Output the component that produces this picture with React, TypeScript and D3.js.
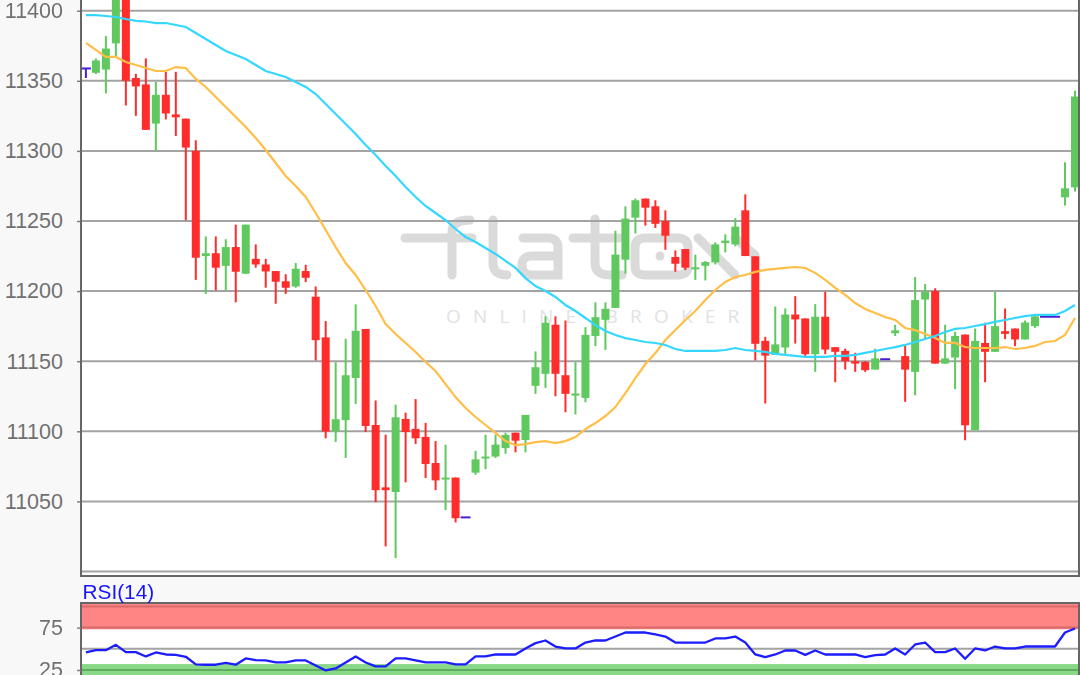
import * as d3 from 'd3';
import React, {useRef, useEffect} from 'react';

// candle values, one entry per bar
const opens = [11358.8, 11355.7, 11358, 11376.7, 11420, 11352, 11347.4, 11319.5, 11340, 11326,
  11323, 11300, 11225, 11227, 11218, 11231.4, 11212.4, 11223, 11219, 11214.3,
  11207, 11203.3, 11214.3, 11196, 11167, 11100, 11108, 11138, 11173, 11104.5,
  11060, 11056.7, 11108.8, 11101.7, 11096, 11077.4, 11066, 11067, 11038.6, 11070.5,
  11080.7, 11082, 11088, 11099, 11093.8, 11132.4, 11141, 11176, 11140, 11125.5,
  11123.8, 11168, 11179.5, 11188, 11222.4, 11252.4, 11266, 11260.5, 11250, 11224.3,
  11230, 11215.5, 11218, 11220.5, 11234.3, 11233.3, 11257.6, 11224.8, 11164.5, 11154.5,
  11159.8, 11183.3, 11180.5, 11155, 11181.7, 11160, 11157.4, 11150, 11149.5, 11144,
  11151.4, 11170, 11153.6, 11142.4, 11194, 11200, 11148.3, 11152.6, 11169, 11100.7,
  11163, 11156.7, 11171.4, 11173.3, 11165.5, 11175, 11181.7, 11181.7, 11266.9, 11274];
const closes = [11358.8, 11364.5, 11373, 11415, 11350, 11346, 11315, 11340, 11326.7, 11324,
  11302.4, 11223.8, 11227, 11216.7, 11231.4, 11213.8, 11247.4, 11219, 11214, 11206.7,
  11202.4, 11216, 11209.5, 11165, 11099.8, 11108.6, 11140, 11171.7, 11103.8, 11058,
  11058, 11110, 11099.5, 11095, 11076.7, 11065, 11067, 11038, 11038.6, 11080,
  11082, 11090.5, 11097.4, 11093.3, 11111.7, 11145.7, 11177.4, 11141, 11126.7, 11127,
  11168.8, 11181.4, 11187.4, 11226, 11251.7, 11264.8, 11259.5, 11248, 11239.5, 11219.5,
  11216.7, 11217, 11220.7, 11233.3, 11236, 11246, 11225, 11162.4, 11154, 11162,
  11183.3, 11179.8, 11155, 11181.7, 11158.3, 11156.7, 11150, 11148.3, 11143.6, 11152,
  11151.4, 11172, 11144, 11193.6, 11199.5, 11148.3, 11152, 11168, 11104.3, 11164.5,
  11156.7, 11175, 11169.5, 11165.5, 11177.6, 11182, 11181.7, 11181.7, 11273.3, 11338.8];
const highs = [11358.8, 11366, 11382, 11425, 11430, 11355, 11366, 11349.3, 11356.4, 11356.4,
  11323, 11307.6, 11239, 11239, 11237, 11247.4, 11247.4, 11233.3, 11223, 11214.3,
  11212, 11220, 11218.8, 11203.3, 11178.6, 11149.3, 11166, 11190.5, 11173, 11122,
  11097.6, 11119, 11113.3, 11123, 11106, 11093, 11090.5, 11067, 11038.6, 11086,
  11097.6, 11097.6, 11099, 11099, 11111.7, 11157, 11182, 11182, 11179, 11149.3,
  11174.3, 11192, 11192, 11243, 11260.5, 11266, 11266, 11264.8, 11257.6, 11229,
  11230, 11226, 11221.4, 11234.8, 11240.5, 11252, 11269, 11224.8, 11167.4, 11189,
  11187.6, 11196.4, 11180.5, 11190.7, 11199.5, 11160, 11159, 11156, 11150, 11159,
  11151.4, 11176, 11161, 11210, 11205, 11202, 11176, 11171, 11169, 11173.3,
  11177.4, 11199.5, 11187.6, 11173.3, 11179, 11182, 11181.7, 11181.7, 11291.9, 11343];
const lows = [11352, 11354.8, 11341, 11367.6, 11332.4, 11325, 11315, 11300.5, 11322.4, 11310.7,
  11250.5, 11208, 11198, 11200.5, 11200.5, 11192, 11212.4, 11216.7, 11202.4, 11191,
  11198, 11202.4, 11206.4, 11150.5, 11095, 11092.4, 11081, 11119.5, 11099.5, 11049.5,
  11017.9, 11009.5, 11063.6, 11091, 11066.7, 11058, 11043.8, 11035, 11038.6, 11069,
  11073, 11081, 11084, 11085, 11085, 11126.7, 11131, 11125, 11113.6, 11112,
  11120.7, 11160.7, 11158, 11188, 11212.4, 11241, 11246.7, 11245, 11229.5, 11213.8,
  11215, 11208, 11207.6, 11219, 11227.6, 11232, 11225, 11150.5, 11119.8, 11154.5,
  11155, 11162.6, 11153.6, 11142.4, 11155, 11135, 11144, 11142.4, 11142.4, 11144,
  11151.4, 11168, 11121, 11125.7, 11166, 11148.3, 11148.3, 11130, 11093.6, 11100.7,
  11135, 11156.7, 11165.8, 11160.7, 11165.5, 11173.8, 11181.7, 11181.7, 11261, 11271];

// the two moving averages
const slowAverage = [11396.9, 11396.9, 11396.2, 11395.5, 11394.1, 11392.7, 11392.3, 11391.2, 11391.2, 11389.8,
  11388.4, 11384.1, 11379.8, 11375.5, 11371.3, 11368.4, 11365.5, 11361.3, 11357, 11354.8,
  11352.7, 11349.1, 11345.6, 11340.6, 11333.5, 11326.3, 11319.2, 11312.1, 11304.2, 11297.1,
  11289.2, 11282.1, 11274.2, 11267.1, 11260.7, 11255.7, 11250.7, 11244.3, 11238.6, 11235,
  11230.7, 11226.5, 11221.5, 11216.5, 11209.3, 11203.6, 11200.1, 11195.8, 11190.1, 11185.8,
  11180.8, 11175.8, 11171.5, 11168.7, 11166.5, 11165.1, 11163.7, 11163, 11161.6, 11158.7,
  11157.3, 11157.3, 11157.3, 11157.3, 11158, 11159.4, 11158, 11157.3, 11156.6, 11155.2,
  11154.5, 11153.8, 11153.1, 11153.1, 11153.1, 11153.8, 11153.8, 11154.5, 11155.9, 11157.3,
  11158.7, 11160, 11161.6, 11163.7, 11165.8, 11168, 11170.8, 11173, 11173.7, 11175.1,
  11176.5, 11178, 11179.4, 11180.8, 11182.2, 11183, 11183, 11183, 11185.8, 11190.1];
const fastAverage = [11377, 11372, 11367, 11367, 11363.4, 11361.3, 11359.1, 11357, 11357, 11359.8,
  11359.1, 11351.3, 11345.6, 11338.4, 11331.3, 11324.2, 11317.1, 11309.2, 11300.6, 11291.4,
  11282.1, 11275, 11267.1, 11255.7, 11243.6, 11231.4, 11220, 11211.5, 11200.8, 11189.4,
  11176.5, 11169.4, 11163, 11156.6, 11149.4, 11143, 11133.7, 11124.4, 11116.6, 11110.2,
  11104.5, 11098.8, 11093, 11090.2, 11090.9, 11092.3, 11093, 11091.6, 11093, 11095.9,
  11101.6, 11105.9, 11110.9, 11117.3, 11127.3, 11138, 11148, 11155.8, 11165.1, 11172.2,
  11179.4, 11185.8, 11193.7, 11200.8, 11206.5, 11210.1, 11211.5, 11213.7, 11215.1, 11215.8,
  11216.5, 11217.2, 11216.5, 11213, 11208, 11202.3, 11197.3, 11191.5, 11187.2, 11184.4,
  11181.5, 11179.4, 11173.7, 11172.2, 11169.4, 11166.5, 11163, 11163, 11160.1, 11159.4,
  11159.4, 11159.4, 11160.1, 11158.7, 11159.4, 11160.9, 11163.7, 11164.4, 11168.7, 11180.8];

const rsiValues = [45.7, 48.4, 48.4, 54.7, 46.1, 46.1, 41, 45.7, 43.3, 42.9,
  40.6, 31.6, 31.2, 31.2, 33.5, 31.2, 38.6, 36.7, 36.3, 33.9,
  33.9, 36.3, 36.3, 30.4, 24.5, 26.9, 33.9, 41, 33.9, 29.2,
  29.2, 38.6, 38.6, 36.3, 33.9, 33.9, 33.9, 31.6, 31.6, 41,
  41, 43.3, 43.3, 43.3, 50.4, 56.7, 59.8, 52.7, 50.4, 50.4,
  57.4, 59.8, 59.8, 64.5, 69.2, 69.2, 69.2, 66.9, 64.5, 57.4,
  57.4, 57.4, 57.4, 62.2, 62.2, 64.5, 57.4, 43.3, 40.2, 43.3,
  48, 48, 42.9, 48, 43.3, 43.3, 43.3, 43.3, 40.2, 42.6,
  43.3, 50.4, 43.3, 55.1, 57.4, 46.1, 46.1, 50.4, 38.2, 50.4,
  48, 52.7, 50.4, 50.4, 52.7, 52.7, 52.7, 52.7, 69.2, 73.9];

const priceTicks = [11000, 11050, 11100, 11150, 11200, 11250, 11300, 11350, 11400];
const rsiTicks = [25, 75];
const watermarkName = "ONLINE BROKER";

// rounded strokes of the watermark logo
const logoStrokes = [
  "M405 238H472", "M452 275V232Q452 220 470 220",
  "M493 220V263Q493 275 507 275",
  "M523 238H548Q558 238 558 248V275H532Q522 275 522 265Q522 256 532 256H556",
  "M573 238H622", "M595 219V263Q595 275 610 275H622",
  "M635 248Q635 238 645 238H678Q688 238 688 248V266Q688 275 678 275H645Q635 275 635 266Z",
  "M698 238L735 275", "M735 238L755 255",
];

const width = 1080;
const height = 675;
const plotLeft = 81;
const plotRight = 1079;
const mainBottom = 576;
const rsiTop = 603;

const App = () => {
  const ref = useRef<SVGSVGElement>(null);

  useEffect(() => {
    const svg = d3.select(ref.current);
    svg.selectAll("*").remove();

    const x = d3.scaleLinear().domain([0, opens.length - 1]).range([85.9, 1075]);
    const y = d3.scaleLinear().domain([11000, 11400]).range([571.5, 10.7]);
    const yRsi = d3.scaleLinear().domain([25, 75]).range([670, 627.6]);

    const defs = svg.append("defs");
    defs.append("clipPath").attr("id", "mainClip").append("rect")
      .attr("x", plotLeft).attr("y", -10).attr("width", plotRight - plotLeft).attr("height", mainBottom + 10);
    defs.append("clipPath").attr("id", "rsiClip").append("rect")
      .attr("x", plotLeft).attr("y", rsiTop).attr("width", plotRight - plotLeft).attr("height", height - rsiTop);

    const root = svg.append("g").style("filter", "blur(0.5px)");

    root.append("rect").attr("width", width).attr("height", height).attr("fill", "#f8f8f8");
    root.append("rect").attr("x", plotLeft).attr("y", -10).attr("width", plotRight - plotLeft).attr("height", mainBottom + 10).attr("fill", "#fff");
    root.append("rect").attr("x", plotLeft).attr("y", rsiTop).attr("width", plotRight - plotLeft).attr("height", height - rsiTop).attr("fill", "#fff");

    // watermark
    const logo = root.append("g").attr("clip-path", "url(#mainClip)");
    logo.selectAll("path.logo").data(logoStrokes).enter().append("path")
      .attr("class", "logo")
      .attr("d", d => d)
      .attr("fill", "none")
      .attr("stroke", "#dadada")
      .attr("stroke-width", 9)
      .attr("stroke-linecap", "round");
    logo.append("circle").attr("cx", 660).attr("cy", 256).attr("r", 4.5).attr("fill", "#dadada");
    logo.append("text")
      .attr("x", 446).attr("y", 323)
      .attr("font-family", "'Open Sans', sans-serif")
      .attr("font-size", 19)
      .attr("letter-spacing", 12.2)
      .attr("fill", "#e2e2e2")
      .text(watermarkName);

    // price axis and grid
    const axisMain = root.append("g").attr("transform", `translate(${plotLeft},0)`)
      .call(d3.axisLeft(y).tickValues(priceTicks).tickSize(4).tickPadding(14).tickFormat(d3.format("d")));
    axisMain.select(".domain").remove();
    axisMain.selectAll("line").attr("stroke", "#808080").attr("stroke-width", 1.5);
    axisMain.selectAll("text")
      .attr("font-family", "'Liberation Sans', Arial, sans-serif")
      .attr("font-size", 21.5)
      .attr("fill", "#707070")
      .text(d => d === 11000 ? "" : String(d));
    axisMain.selectAll(".tick").filter(d => d === 11000).select("line").remove();

    root.append("g").selectAll("line").data(priceTicks).enter().append("line")
      .attr("x1", plotLeft).attr("x2", plotRight)
      .attr("y1", d => y(d)).attr("y2", d => y(d))
      .attr("stroke", "#a3a3a3").attr("stroke-width", 2);

    const candles = root.append("g").attr("clip-path", "url(#mainClip)");

    const barColour = (i: number) => {
      if (opens[i] === closes[i]) return "#4a1ed6";
      return closes[i] > opens[i] ? "#5fc95f" : "#ff2c2c";
    };
    const idx = d3.range(opens.length);

    candles.selectAll("rect.wick").data(idx).enter().append("rect")
      .attr("class", "wick")
      .attr("x", i => x(i) - 1)
      .attr("width", 2)
      .attr("y", i => y(highs[i]))
      .attr("height", i => y(lows[i]) - y(highs[i]))
      .attr("fill", barColour);

    candles.selectAll("rect.body").data(idx).enter().append("rect")
      .attr("class", "body")
      .attr("x", i => x(i) - (opens[i] === closes[i] ? 5 : 4))
      .attr("width", i => opens[i] === closes[i] ? 10 : 8)
      .attr("y", i => y(Math.max(opens[i], closes[i])) - (opens[i] === closes[i] ? 1 : 0))
      .attr("height", i => Math.max(Math.abs(y(opens[i]) - y(closes[i])), 2))
      .attr("fill", barColour);

    const priceLine = d3.line<number>().x((_, i) => x(i)).y(d => y(d));
    candles.append("path").attr("d", priceLine(fastAverage))
      .attr("fill", "none").attr("stroke", "#ffbe46").attr("stroke-width", 2.2);
    candles.append("path").attr("d", priceLine(slowAverage))
      .attr("fill", "none").attr("stroke", "#36d7ff").attr("stroke-width", 2.2);

    // plot frame
    root.append("path")
      .attr("d", `M${plotLeft} -10V${mainBottom}H${plotRight}V-10`)
      .attr("fill", "none").attr("stroke", "#666").attr("stroke-width", 2);

    // RSI panel
    const rsi = root.append("g").attr("clip-path", "url(#rsiClip)");
    rsi.append("rect").attr("x", plotLeft).attr("y", rsiTop).attr("width", plotRight - plotLeft)
      .attr("height", yRsi(73) - rsiTop).attr("fill", "#ff8585");
    rsi.append("rect").attr("x", plotLeft).attr("y", yRsi(32)).attr("width", plotRight - plotLeft)
      .attr("height", height - yRsi(32)).attr("fill", "#88d888");
    rsi.selectAll("line.band").data([
      {v: 100, c: "#d96a6a"}, {v: 75, c: "#d96a6a"}, {v: 25, c: "#5fae5f"},
    ]).enter().append("line")
      .attr("class", "band")
      .attr("x1", plotLeft).attr("x2", plotRight)
      .attr("y1", d => yRsi(d.v)).attr("y2", d => yRsi(d.v))
      .attr("stroke", d => d.c).attr("stroke-width", 2);
    rsi.append("line")
      .attr("x1", plotLeft).attr("x2", plotRight).attr("y1", yRsi(50)).attr("y2", yRsi(50))
      .attr("stroke", "#a3a3a3").attr("stroke-width", 2);

    const rsiLine = d3.line<number>().x((_, i) => x(i)).y(d => yRsi(d));
    rsi.append("path").attr("d", rsiLine(rsiValues))
      .attr("fill", "none").attr("stroke", "#1c1cff").attr("stroke-width", 2.3).attr("stroke-linejoin", "round");

    root.append("path")
      .attr("d", `M${plotLeft} ${height + 5}V${rsiTop}H${plotRight}V${height + 5}`)
      .attr("fill", "none").attr("stroke", "#666").attr("stroke-width", 2);

    const axisRsi = root.append("g").attr("transform", `translate(${plotLeft},0)`)
      .call(d3.axisLeft(yRsi).tickValues(rsiTicks).tickSize(4).tickPadding(14));
    axisRsi.select(".domain").remove();
    axisRsi.selectAll("line").attr("stroke", "#808080").attr("stroke-width", 1.5);
    axisRsi.selectAll("text")
      .attr("font-family", "'Liberation Sans', Arial, sans-serif")
      .attr("font-size", 21.5)
      .attr("fill", "#707070");

    root.append("text")
      .attr("x", 82.5).attr("y", 598.5)
      .attr("font-family", "'Liberation Sans', Arial, sans-serif")
      .attr("font-size", 20.8)
      .attr("fill", "#1414ff")
      .text("RSI(14)");
  }, []);

  return <svg ref={ref} width={width} height={height} style={{position: "absolute", left: 0, top: 0, display: "block"}} />;
};

export default App;
